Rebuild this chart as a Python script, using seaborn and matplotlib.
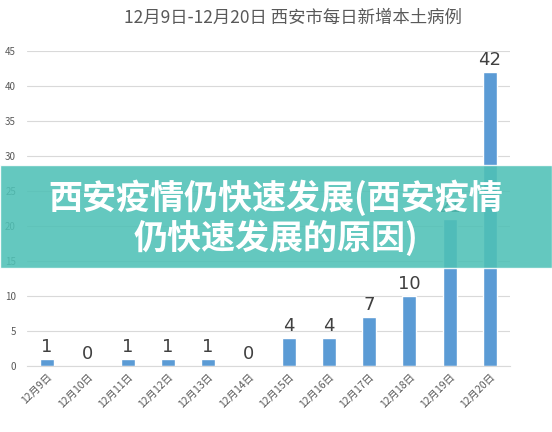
import matplotlib
matplotlib.use("Agg")
import matplotlib.pyplot as plt
import seaborn as sns
import pandas as pd
from matplotlib.patches import Rectangle

dates = ["12月9日", "12月10日", "12月11日", "12月12日", "12月13日", "12月14日",
         "12月15日", "12月16日", "12月17日", "12月18日", "12月19日", "12月20日"]
cases = [1, 0, 1, 1, 1, 0, 4, 4, 7, 10, 21, 42]
yticks = [0, 5, 10, 15, 20, 25, 30, 35, 40, 45]

title = "12月9日-12月20日 西安市每日新增本土病例"
banner = "西安疫情仍快速发展(西安疫情\n仍快速发展的原因)"

sns.set_style("white")
plt.rcParams['font.family'] = ['Noto Sans CJK SC', 'DejaVu Sans']

df = pd.DataFrame({"date": dates, "cases": cases})

fig = plt.figure(figsize=(5.52, 4.32), dpi=100)
ax = fig.add_axes([0.049, 0.153, 0.875, 0.729])
sns.barplot(data=df, x="date", y="cases", color="#5B9BD5", saturation=1,
            width=0.35, ax=ax, zorder=2)

ax.set_ylim(0, 45)
ax.set_yticks(yticks)
ax.yaxis.grid(True, color="#D9D9D9", linewidth=0.8, zorder=0)
ax.set_axisbelow(True)
for s in ["top", "right", "left"]:
    ax.spines[s].set_visible(False)
ax.spines["bottom"].set_color("#D9D9D9")
ax.tick_params(axis="y", length=0, labelsize=7, labelcolor="#595959", pad=8)
ax.tick_params(axis="x", length=0, labelsize=7.5, labelcolor="#595959", pad=4)
plt.setp(ax.get_xticklabels(), rotation=45, ha="right", rotation_mode="anchor")
ax.set_xlabel("")
ax.set_ylabel("")

for i, v in enumerate(cases):
    ax.text(i, v + 0.4, str(v), ha="center", va="bottom", fontsize=13,
            color="#404040", family=['DejaVu Sans'])

fig.text(0.53, 0.958, title, ha="center", va="center", fontsize=12.5, color="#595959")

# teal overlay banner
fig.patches.append(Rectangle((0, 1 - 268 / 432), 1, 103 / 432, transform=fig.transFigure,
                             facecolor="#4FC1B6", alpha=0.88, zorder=5))
fig.text(0.5, 1 - 218 / 432, banner, ha="center", va="center", fontsize=24.5,
         fontweight="bold", color="white", linespacing=1.12, zorder=6)

fig.savefig("out.png", dpi=100)
